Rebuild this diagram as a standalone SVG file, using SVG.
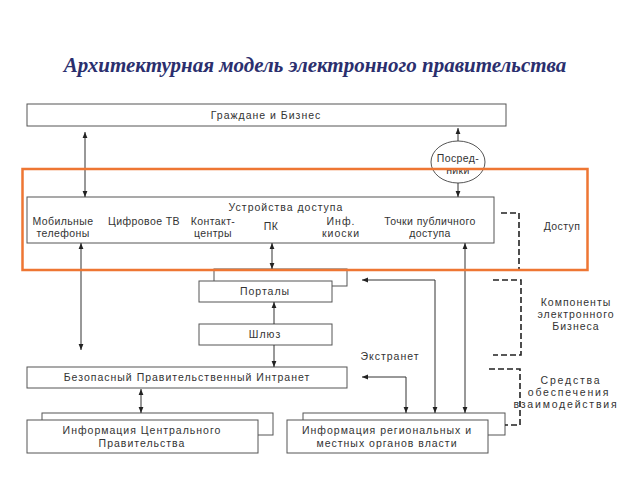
<svg xmlns="http://www.w3.org/2000/svg" width="640" height="480" viewBox="0 0 640 480">
<defs>
<marker id="ah" viewBox="0 0 10 10" refX="10" refY="5" markerWidth="6" markerHeight="6" markerUnits="userSpaceOnUse" orient="auto-start-reverse">
<path d="M0,1 L10,5 L0,9 z" fill="#222"/>
</marker>
<style>
.box{fill:#fff;stroke:#555;stroke-width:1}
.t{font-family:"Liberation Sans",Arial,sans-serif;font-size:10.5px;fill:#333;text-anchor:middle;letter-spacing:0.4px}
.ts{font-family:"Liberation Sans",Arial,sans-serif;font-size:10.5px;fill:#333;text-anchor:middle;letter-spacing:1px}
.tw{font-family:"Liberation Sans",Arial,sans-serif;font-size:10.5px;fill:#333;text-anchor:middle;letter-spacing:1.8px}
.c{fill:none;stroke:#333;stroke-width:1}
.a{fill:none;stroke:#333;stroke-width:1;marker-end:url(#ah)}
.aa{fill:none;stroke:#333;stroke-width:1;marker-end:url(#ah);marker-start:url(#ah)}
.d{fill:none;stroke:#222;stroke-width:1.6;stroke-dasharray:6,3}
</style>
</defs>
<rect width="640" height="480" fill="#fff"/>
<text x="315" y="72" font-family="'Liberation Serif','Times New Roman',serif" font-size="21" font-weight="bold" font-style="italic" fill="#2B2F6E" text-anchor="middle">Архитектурная модель электронного правительства</text>

<g id="citizens">
<rect class="box" x="27" y="104" width="479" height="22"/>
<text class="ts" x="266" y="119">Граждане и Бизнес</text>
</g>
<g id="intermediaries">
<ellipse cx="458" cy="162" rx="27" ry="21" fill="#fff" stroke="#555" stroke-width="1"/>
<text class="t" x="458" y="162" font-size="11">Посред-</text>
<text class="t" x="458" y="174">ники</text>
</g>
<g id="access">
<rect class="box" x="27" y="197" width="467" height="46"/>
<text class="ts" x="286" y="211">Устройства доступа</text>
<text class="t" x="63" y="225">Мобильные</text>
<text class="t" x="63" y="237">телефоны</text>
<text class="t" x="144" y="225">Цифровое ТВ</text>
<text class="t" x="213" y="225">Контакт-</text>
<text class="t" x="213" y="237">центры</text>
<text class="t" x="271" y="230">ПК</text>
<text class="ts" x="341" y="225">Инф.</text>
<text class="ts" x="341" y="237">киоски</text>
<text class="t" x="430" y="225">Точки публичного</text>
<text class="t" x="430" y="237">доступа</text>
</g>
<g id="portals">
<rect class="box" x="214" y="269" width="133" height="17"/>
<rect class="box" x="199" y="281" width="133" height="21"/>
<text class="ts" x="265" y="295">Порталы</text>
</g>
<g id="gateway">
<rect class="box" x="199" y="324" width="133" height="21"/>
<text class="ts" x="265" y="338">Шлюз</text>
</g>
<g id="intranet">
<rect class="box" x="27" y="367" width="320" height="21"/>
<text class="ts" x="187" y="381">Безопасный Правительственный Интранет</text>
</g>
<g id="central">
<rect class="box" x="42" y="413" width="231" height="22"/>
<rect class="box" x="27" y="420" width="231" height="33"/>
<text class="ts" x="142" y="434">Информация Центрального</text>
<text class="ts" x="142" y="447">Правительства</text>
</g>
<g id="regional">
<rect class="box" x="303" y="413" width="202" height="22"/>
<rect class="box" x="287" y="420" width="201" height="33"/>
<text class="ts" x="387" y="434">Информация региональных  и</text>
<text class="ts" x="387" y="447">местных органов власти</text>
</g>
<g id="labels">
<text class="ts" x="390" y="360">Экстранет</text>
<text class="t" x="562" y="230">Доступ</text>
<text class="ts" x="576" y="306">Компоненты</text>
<text class="ts" x="576" y="318">электронного</text>
<text class="ts" x="576" y="330">Бизнеса</text>
<text class="tw" x="571" y="384">Средства</text>
<text class="tw" x="569" y="396">обеспечения</text>
<text class="tw" x="566" y="408">взаимодействия</text>
</g>
<g id="connectors">
<line class="aa" x1="85" y1="132" x2="85" y2="197"/>
<line class="a" x1="458" y1="141" x2="458" y2="128"/>
<line class="a" x1="458" y1="183" x2="458" y2="197"/>
<line class="aa" x1="81" y1="243" x2="81" y2="350"/>
<line class="aa" x1="272" y1="243" x2="272" y2="269"/>
<line class="a" x1="274" y1="324" x2="274" y2="302"/>
<line class="a" x1="274" y1="345" x2="274" y2="367"/>
<line class="aa" x1="141" y1="389" x2="141" y2="413"/>
<line class="a" x1="465" y1="413" x2="465" y2="243" style="marker-start:url(#ah)"/>
<polyline class="aa" points="362,280 435,280 435,413"/>
<polyline class="aa" points="362,377 406,377 406,413"/>
<polyline class="d" points="501,213 519,213 519,270"/>
<polyline class="d" points="493,280 521,280 521,355 493,355"/>
<polyline class="d" points="489,369 520,369 520,425 505,425"/>
</g>
<rect x="22.5" y="169" width="565" height="101" fill="none" stroke="#EE7633" stroke-width="2.5"/>
</svg>
